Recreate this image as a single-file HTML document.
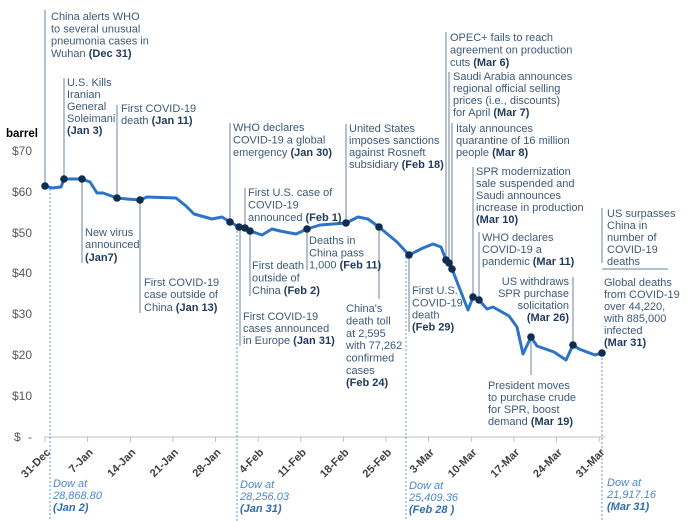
<!DOCTYPE html>
<html><head><meta charset="utf-8"><style>
html,body{margin:0;padding:0;background:#fff;}
svg{display:block;font-family:"Liberation Sans",sans-serif;}
.a{font-size:11px;fill:#3d5a7a;}
.b{font-weight:bold;fill:#1f3a5c;}
.d{font-size:11px;fill:#4a88cc;font-style:italic;}
.db{font-weight:bold;fill:#2f6db3;}
.y{font-size:12px;fill:#595959;}
.x{font-size:11px;font-weight:bold;fill:#3f3f3f;}
.vl{stroke:#8497b0;stroke-width:1.2;fill:none;}
.dl{stroke:#5b9bd5;stroke-width:1;stroke-dasharray:2,2;fill:none;}
</style></head><body>
<svg width="691" height="521" viewBox="0 0 691 521" xmlns="http://www.w3.org/2000/svg">
<!-- y labels -->
<text x="6" y="137" style="font-size:11.5px;font-weight:bold;fill:#000">barrel</text>
<g class="y" text-anchor="end">
<text x="32" y="155">$70</text>
<text x="32" y="196">$60</text>
<text x="32" y="237">$50</text>
<text x="32" y="277">$40</text>
<text x="32" y="318">$30</text>
<text x="32" y="359">$20</text>
<text x="32" y="400">$10</text>
</g>
<text x="14" y="441" class="y">$</text><text x="32" y="441" class="y" text-anchor="end">-</text>
<!-- axis -->
<line x1="45" y1="437" x2="605" y2="437" stroke="#bfbfbf" stroke-width="1"/>
<g stroke="#bfbfbf" stroke-width="1">
<line x1="45" y1="437" x2="45" y2="442"/><line x1="87.6" y1="437" x2="87.6" y2="442"/><line x1="130.3" y1="437" x2="130.3" y2="442"/><line x1="172.9" y1="437" x2="172.9" y2="442"/><line x1="215.5" y1="437" x2="215.5" y2="442"/><line x1="258.2" y1="437" x2="258.2" y2="442"/><line x1="300.8" y1="437" x2="300.8" y2="442"/><line x1="343.4" y1="437" x2="343.4" y2="442"/><line x1="386" y1="437" x2="386" y2="442"/><line x1="428.7" y1="437" x2="428.7" y2="442"/><line x1="471.3" y1="437" x2="471.3" y2="442"/><line x1="514" y1="437" x2="514" y2="442"/><line x1="556.6" y1="437" x2="556.6" y2="442"/><line x1="599.2" y1="437" x2="599.2" y2="442"/>
</g>
<g class="x" text-anchor="end">
<text transform="translate(51,453) rotate(-45)">31-Dec</text>
<text transform="translate(93.6,453) rotate(-45)">7-Jan</text>
<text transform="translate(136.3,453) rotate(-45)">14-Jan</text>
<text transform="translate(178.9,453) rotate(-45)">21-Jan</text>
<text transform="translate(221.5,453) rotate(-45)">28-Jan</text>
<text transform="translate(264.2,453) rotate(-45)">4-Feb</text>
<text transform="translate(306.8,453) rotate(-45)">11-Feb</text>
<text transform="translate(349.4,453) rotate(-45)">18-Feb</text>
<text transform="translate(392,453) rotate(-45)">25-Feb</text>
<text transform="translate(434.7,453) rotate(-45)">3-Mar</text>
<text transform="translate(477.3,453) rotate(-45)">10-Mar</text>
<text transform="translate(520,453) rotate(-45)">17-Mar</text>
<text transform="translate(562.6,453) rotate(-45)">24-Mar</text>
<text transform="translate(605.2,453) rotate(-45)">31-Mar</text>
</g>
<!-- dotted Dow lines -->
<line class="dl" x1="50" y1="189" x2="50" y2="521"/>
<line class="dl" x1="237" y1="227" x2="237" y2="521"/>
<line class="dl" x1="406" y1="253" x2="406" y2="521"/>
<line class="dl" x1="602" y1="354" x2="602" y2="521"/>
<!-- annotation lines -->
<line class="vl" x1="45" y1="10" x2="45" y2="186"/>
<line class="vl" x1="64" y1="78" x2="64" y2="179"/>
<line class="vl" x1="117" y1="105" x2="117" y2="198"/>
<line class="vl" x1="230" y1="123" x2="230" y2="222"/>
<line class="vl" x1="346" y1="124" x2="346" y2="223"/>
<line class="vl" x1="245" y1="188" x2="245" y2="228"/>
<line class="vl" x1="250" y1="231" x2="250" y2="296"/>
<line class="vl" x1="240" y1="227" x2="240" y2="346"/>
<line class="vl" x1="82" y1="179" x2="82" y2="263"/>
<line class="vl" x1="140" y1="200" x2="140" y2="313"/>
<line class="vl" x1="307" y1="229" x2="307" y2="270"/>
<line class="vl" x1="379" y1="227" x2="379" y2="299"/>
<line class="vl" x1="409" y1="255" x2="409" y2="332"/>
<line class="vl" x1="446" y1="32" x2="446" y2="260"/>
<line class="vl" x1="449" y1="72" x2="449" y2="263"/>
<line class="vl" x1="452" y1="123" x2="452" y2="269"/>
<line class="vl" x1="473" y1="167" x2="473" y2="297"/>
<line class="vl" x1="479" y1="232" x2="479" y2="300"/>
<line class="vl" x1="573" y1="277" x2="573" y2="345"/>
<line class="vl" x1="531" y1="337" x2="531" y2="375"/>
<line class="vl" x1="602" y1="208" x2="602" y2="263"/>
<line class="vl" x1="602" y1="269" x2="668" y2="269"/>
<!-- data line -->
<polyline fill="none" stroke="#2e74c6" stroke-width="3" stroke-linejoin="round" stroke-linecap="round" points="45,186 52,188 61,187 64,179 82,179 90,182 97,193 103,193 117,198 127,199 140,200 147,197 176,198 186,206 194,214 212,219 222,217 230,222 239,227 245,228 250,231 262,235 272,229 280,231 296,234 307,229 320,225 346,223 358,217 368,219 379,227 397,242 409,255 423,248 433,244 441,247 446,260 449,263 452,269 468,310 473,297 479,300 487,309 493,307 509,316 517,327 523,354 531,337 537,346 554,352 566,360 573,345 579,349 595,355 602,353"/>
<g fill="#0f2d52">
<circle cx="45" cy="186" r="3.8"/><circle cx="64" cy="179" r="3.8"/><circle cx="82" cy="179" r="3.8"/><circle cx="117" cy="198" r="3.8"/><circle cx="140" cy="200" r="3.8"/><circle cx="230" cy="222" r="3.8"/><circle cx="239" cy="227" r="3.8"/><circle cx="245" cy="228" r="3.8"/><circle cx="250" cy="231" r="3.8"/><circle cx="307" cy="229" r="3.8"/><circle cx="346" cy="223" r="3.8"/><circle cx="379" cy="227" r="3.8"/><circle cx="409" cy="255" r="3.8"/><circle cx="446" cy="260" r="3.8"/><circle cx="449" cy="263" r="3.8"/><circle cx="452" cy="269" r="3.8"/><circle cx="473" cy="297" r="3.8"/><circle cx="479" cy="300" r="3.8"/><circle cx="531" cy="337" r="3.8"/><circle cx="573" cy="345" r="3.8"/><circle cx="602" cy="353" r="3.8"/>
</g>
<!-- annotations -->
<g class="a">
<text x="51" y="20">China alerts WHO</text>
<text x="51" y="32.3">to several unusual</text>
<text x="51" y="44.6">pneumonia cases in</text>
<text x="51" y="57">Wuhan <tspan class="b">(Dec 31)</tspan></text>

<text x="67" y="86">U.S. Kills</text>
<text x="67" y="98">Iranian</text>
<text x="67" y="110">General</text>
<text x="67" y="122">Soleimani</text>
<text x="67" y="134" class="b">(Jan 3)</text>

<text x="121" y="112">First COVID-19</text>
<text x="121" y="124">death <tspan class="b">(Jan 11)</tspan></text>

<text x="233" y="131">WHO declares</text>
<text x="233" y="143.5">COVID-19 a global</text>
<text x="233" y="156">emergency <tspan class="b">(Jan 30)</tspan></text>

<text x="349" y="132">United States</text>
<text x="349" y="144">imposes sanctions</text>
<text x="349" y="156">against Rosneft</text>
<text x="349" y="168">subsidiary <tspan class="b">(Feb 18)</tspan></text>

<text x="248" y="196">First U.S. case of</text>
<text x="248" y="208.5">COVID-19</text>
<text x="248" y="221">announced <tspan class="b">(Feb 1)</tspan></text>

<text x="252" y="269">First death</text>
<text x="252" y="281.5">outside of</text>
<text x="252" y="294">China <tspan class="b">(Feb 2)</tspan></text>

<text x="243" y="320">First COVID-19</text>
<text x="243" y="332">cases announced</text>
<text x="243" y="344">in Europe <tspan class="b">(Jan 31)</tspan></text>

<text x="85" y="236">New virus</text>
<text x="85" y="248">announced</text>
<text x="85" y="261" class="b">(Jan7)</text>

<text x="144" y="286">First COVID-19</text>
<text x="144" y="298">case outside of</text>
<text x="144" y="311">China <tspan class="b">(Jan 13)</tspan></text>

<text x="309" y="244">Deaths in</text>
<text x="309" y="256.5">China pass</text>
<text x="309" y="268.5">1,000 <tspan class="b">(Feb 11)</tspan></text>

<text x="346" y="312">China's</text>
<text x="346" y="324.5">death toll</text>
<text x="346" y="337">at 2,595</text>
<text x="346" y="349">with 77,262</text>
<text x="346" y="361.5">confirmed</text>
<text x="346" y="374">cases</text>
<text x="346" y="386" class="b">(Feb 24)</text>

<text x="412" y="294">First U.S.</text>
<text x="412" y="306.5">COVID-19</text>
<text x="412" y="318.5">death</text>
<text x="412" y="330.5" class="b">(Feb 29)</text>

<text x="450" y="41">OPEC+ fails to reach</text>
<text x="450" y="53.5">agreement on production</text>
<text x="450" y="66">cuts <tspan class="b">(Mar 6)</tspan></text>

<text x="453" y="80">Saudi Arabia announces</text>
<text x="453" y="92">regional official selling</text>
<text x="453" y="104">prices (i.e., discounts)</text>
<text x="453" y="116">for April <tspan class="b">(Mar 7)</tspan></text>

<text x="456" y="132">Italy announces</text>
<text x="456" y="144">quarantine of 16 million</text>
<text x="456" y="156">people <tspan class="b">(Mar 8)</tspan></text>

<text x="476" y="175">SPR modernization</text>
<text x="476" y="187">sale suspended and</text>
<text x="476" y="199">Saudi announces</text>
<text x="476" y="211">increase in production</text>
<text x="476" y="223" class="b">(Mar 10)</text>

<text x="482" y="241">WHO declares</text>
<text x="482" y="253">COVID-19 a</text>
<text x="482" y="265">pandemic <tspan class="b">(Mar 11)</tspan></text>

<text x="569" y="285" text-anchor="end">US withdraws</text>
<text x="569" y="297" text-anchor="end">SPR purchase</text>
<text x="569" y="309" text-anchor="end">solicitation</text>
<text x="569" y="321" text-anchor="end" class="b">(Mar 26)</text>

<text x="488" y="389">President moves</text>
<text x="488" y="401">to purchase crude</text>
<text x="488" y="413">for SPR, boost</text>
<text x="488" y="425">demand <tspan class="b">(Mar 19)</tspan></text>

<text x="607" y="217">US surpasses</text>
<text x="607" y="229">China in</text>
<text x="607" y="241">number of</text>
<text x="607" y="253">COVID-19</text>
<text x="607" y="265">deaths</text>

<text x="604" y="286">Global deaths</text>
<text x="604" y="298">from COVID-19</text>
<text x="604" y="310">over 44,220,</text>
<text x="604" y="322">with 885,000</text>
<text x="604" y="334">infected</text>
<text x="604" y="346" class="b">(Mar 31)</text>
</g>
<!-- Dow labels -->
<g class="d">
<text x="53" y="487">Dow at</text>
<text x="53" y="499">28,868.80</text>
<text x="53" y="511" class="db">(Jan 2)</text>
<text x="240" y="488">Dow at</text>
<text x="240" y="500">28,256.03</text>
<text x="240" y="512" class="db">(Jan 31)</text>
<text x="409" y="489">Dow at</text>
<text x="409" y="501">25,409.36</text>
<text x="409" y="513" class="db">(Feb 28 )</text>
<text x="607" y="486">Dow at</text>
<text x="607" y="498">21,917.16</text>
<text x="607" y="510" class="db">(Mar 31)</text>
</g>
</svg>
</body></html>
